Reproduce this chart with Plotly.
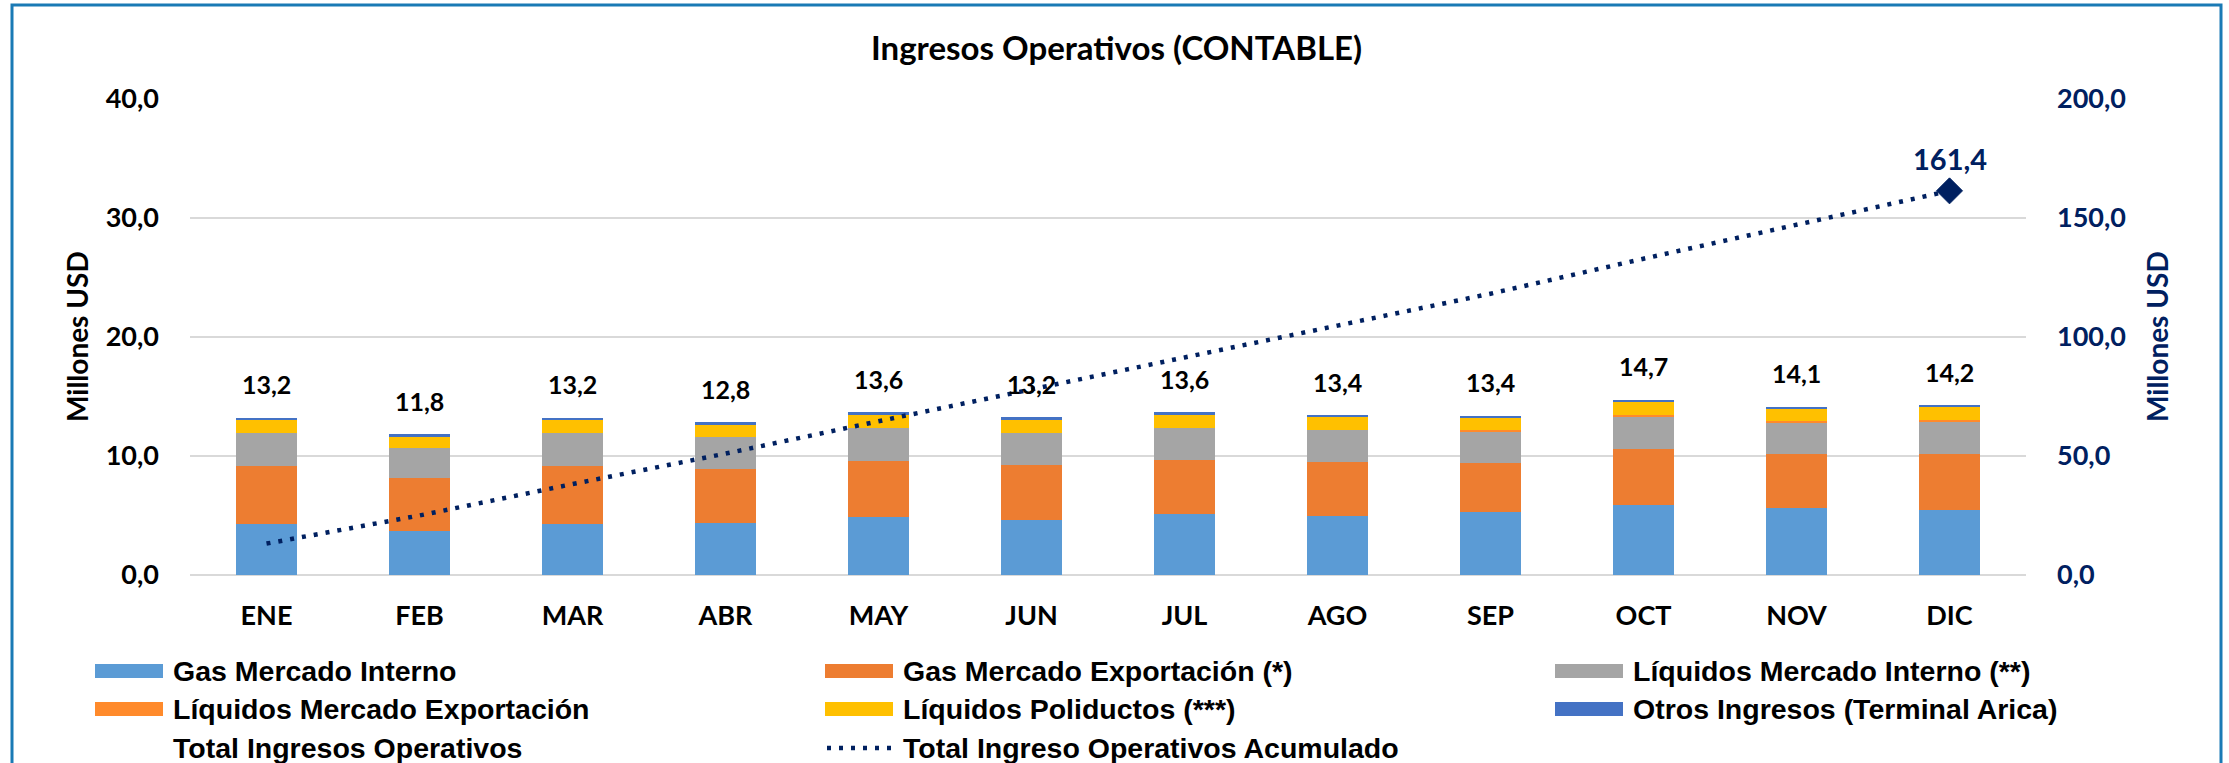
import plotly.graph_objects as go

meses = ["ENE", "FEB", "MAR", "ABR", "MAY", "JUN", "JUL", "AGO", "SEP", "OCT", "NOV", "DIC"]
gas_interno = [4.31, 3.69, 4.31, 4.37, 4.87, 4.65, 5.10, 4.96, 5.30, 5.92, 5.66, 5.49]
gas_export = [4.87, 4.48, 4.87, 4.56, 4.74, 4.62, 4.59, 4.56, 4.11, 4.64, 4.48, 4.71]
liq_interno = [2.76, 2.53, 2.76, 2.68, 2.76, 2.65, 2.70, 2.68, 2.67, 2.79, 2.68, 2.73]
liq_export = [0, 0, 0, 0, 0, 0, 0, 0, 0.12, 0.11, 0.11, 0.11]
liq_poliductos = [1.10, 0.93, 1.10, 1.01, 1.10, 1.13, 1.07, 1.07, 1.01, 1.05, 0.99, 1.04]
otros = [0.16, 0.20, 0.16, 0.25, 0.20, 0.20, 0.20, 0.17, 0.14, 0.17, 0.19, 0.17]
total = [13.2, 11.8, 13.2, 12.8, 13.6, 13.2, 13.6, 13.4, 13.4, 14.7, 14.1, 14.2]
acumulado = [13.2, 25.0, 38.2, 51.0, 64.6, 77.8, 91.4, 104.8, 118.2, 132.9, 147.0, 161.4]

left_ticks = [0, 10, 20, 30, 40]
right_ticks = [0, 50, 100, 150, 200]

series = [
    ("Gas Mercado Interno", gas_interno, "#5B9BD5"),
    ("Gas Mercado Exportación (*)", gas_export, "#ED7D31"),
    ("Líquidos Mercado Interno (**)", liq_interno, "#A5A5A5"),
    ("Líquidos Mercado Exportación", liq_export, "#FF8A2B"),
    ("Líquidos Poliductos (***)", liq_poliductos, "#FFC000"),
    ("Otros Ingresos (Terminal Arica)", otros, "#4472C4"),
]
NAVY = "#002060"
W, H = 2229, 763
PL, PR, PT, PB = 190, 2026, 99, 575

def px(x):
    return (x - PL) / (PR - PL)

def py(y):
    return (PB - y) / (PB - PT)

def fmt(v):
    return f"{v:.1f}".replace(".", ",")

fig = go.Figure()
for name, vals, col in series:
    fig.add_trace(go.Bar(x=meses, y=vals, name=name, marker=dict(color=col, line=dict(width=0)),
                         showlegend=False, hoverinfo="skip"))

fig.add_trace(go.Scatter(
    x=meses, y=acumulado, yaxis="y2", mode="lines+markers", showlegend=False,
    name="Total Ingreso Operativos Acumulado",
    line=dict(color=NAVY, width=4.5, dash="4px,8px"),
    marker=dict(symbol="diamond", color=NAVY, size=[0] * (len(meses) - 1) + [20],
                line=dict(width=1, color=NAVY), opacity=1),
))

font_num = dict(family="Lato", size=27, color="black", weight=700)
LEG_FONT = "Liberation Sans, Arial, Helvetica, sans-serif"

annotations = []
for m, t in zip(meses, total):
    annotations.append(dict(x=m, y=t, xref="x", yref="y", text=fmt(t), showarrow=False,
                            yanchor="middle", yshift=34,
                            font=dict(family="Lato", size=25, color="black", weight=700)))
annotations.append(dict(x=meses[-1], y=acumulado[-1], xref="x", yref="y2", text=fmt(acumulado[-1]),
                        showarrow=False, yanchor="middle", yshift=32,
                        font=dict(family="Lato", size=29, color=NAVY, weight=700)))
# title
annotations.append(dict(x=px(1116), y=py(47), xref="paper", yref="paper", text="Ingresos Operativos (CONTABLE)",
                        showarrow=False, xanchor="center", yanchor="middle",
                        font=dict(family="Lato", size=33, color="black", weight=700)))
# axis titles
annotations.append(dict(x=px(77), y=py(337), xref="paper", yref="paper", text="Millones USD", textangle=-90,
                        showarrow=False, xanchor="center", yanchor="middle",
                        font=dict(family="Lato", size=28, color="black", weight=700)))
annotations.append(dict(x=px(2157), y=py(337), xref="paper", yref="paper", text="Millones USD", textangle=-90,
                        showarrow=False, xanchor="center", yanchor="middle",
                        font=dict(family="Lato", size=28, color=NAVY, weight=700)))

shapes = []
# legend (manual, 3 columns)
legend_items = [(n, c, "bar") for n, _, c in series] + [
    ("Total Ingresos Operativos", None, "none"),
    ("Total Ingreso Operativos Acumulado", NAVY, "dot"),
]
col_x = [95, 825, 1555]
row_y = [671, 709, 748]
for i, (name, col, kind) in enumerate(legend_items):
    cx = col_x[i % 3]
    ry = row_y[i // 3]
    if kind == "bar":
        shapes.append(dict(type="rect", xref="paper", yref="paper", x0=px(cx), x1=px(cx + 68),
                           y0=py(ry + 7), y1=py(ry - 7), fillcolor=col, line=dict(width=0)))
    elif kind == "dot":
        shapes.append(dict(type="line", xref="paper", yref="paper", x0=px(cx + 2), x1=px(cx + 68),
                           y0=py(ry), y1=py(ry), line=dict(color=col, width=4.5, dash="4px,8px")))
    annotations.append(dict(x=px(cx + 76), y=py(ry), xref="paper", yref="paper", text=name, showarrow=False,
                            xanchor="left", yanchor="middle",
                            font=dict(family=LEG_FONT, size=28.5, color="black", weight=700)))

# outer border
shapes.append(dict(type="rect", xref="paper", yref="paper", x0=px(12), x1=px(2221), y0=py(5), y1=py(800),
                   line=dict(color="#1A7AB5", width=3), fillcolor="rgba(0,0,0,0)", layer="below"))

fig.update_layout(
    width=W, height=H,
    margin=dict(l=PL, r=W - PR, t=PT, b=H - PB),
    barmode="stack", bargap=0.6,
    plot_bgcolor="white", paper_bgcolor="white",
    separators=",.",
    showlegend=False,
    xaxis=dict(range=[-0.5, len(meses) - 0.5], showgrid=False, showline=False, ticks="",
               tickfont=font_num, ticklabelstandoff=22, fixedrange=True),
    yaxis=dict(range=[0, 40], tickvals=left_ticks, tickformat=".1f", tickfont=font_num,
               showgrid=True, gridcolor="#D9D9D9", gridwidth=2, zeroline=True, zerolinecolor="#D9D9D9",
               zerolinewidth=2, showline=False, ticks="", ticklabelstandoff=30),
    yaxis2=dict(range=[0, 200], tickvals=right_ticks, tickformat=".1f", overlaying="y", side="right",
                tickfont=dict(family="Lato", size=27, color=NAVY, weight=700),
                showgrid=False, zeroline=False, showline=False, ticks="", ticklabelstandoff=30),
    annotations=annotations,
    shapes=shapes,
)

fig.write_html("out.html", include_plotlyjs=True, config={"displayModeBar": False},
               post_script="document.body.style.margin='0';document.body.style.overflow='hidden';")
